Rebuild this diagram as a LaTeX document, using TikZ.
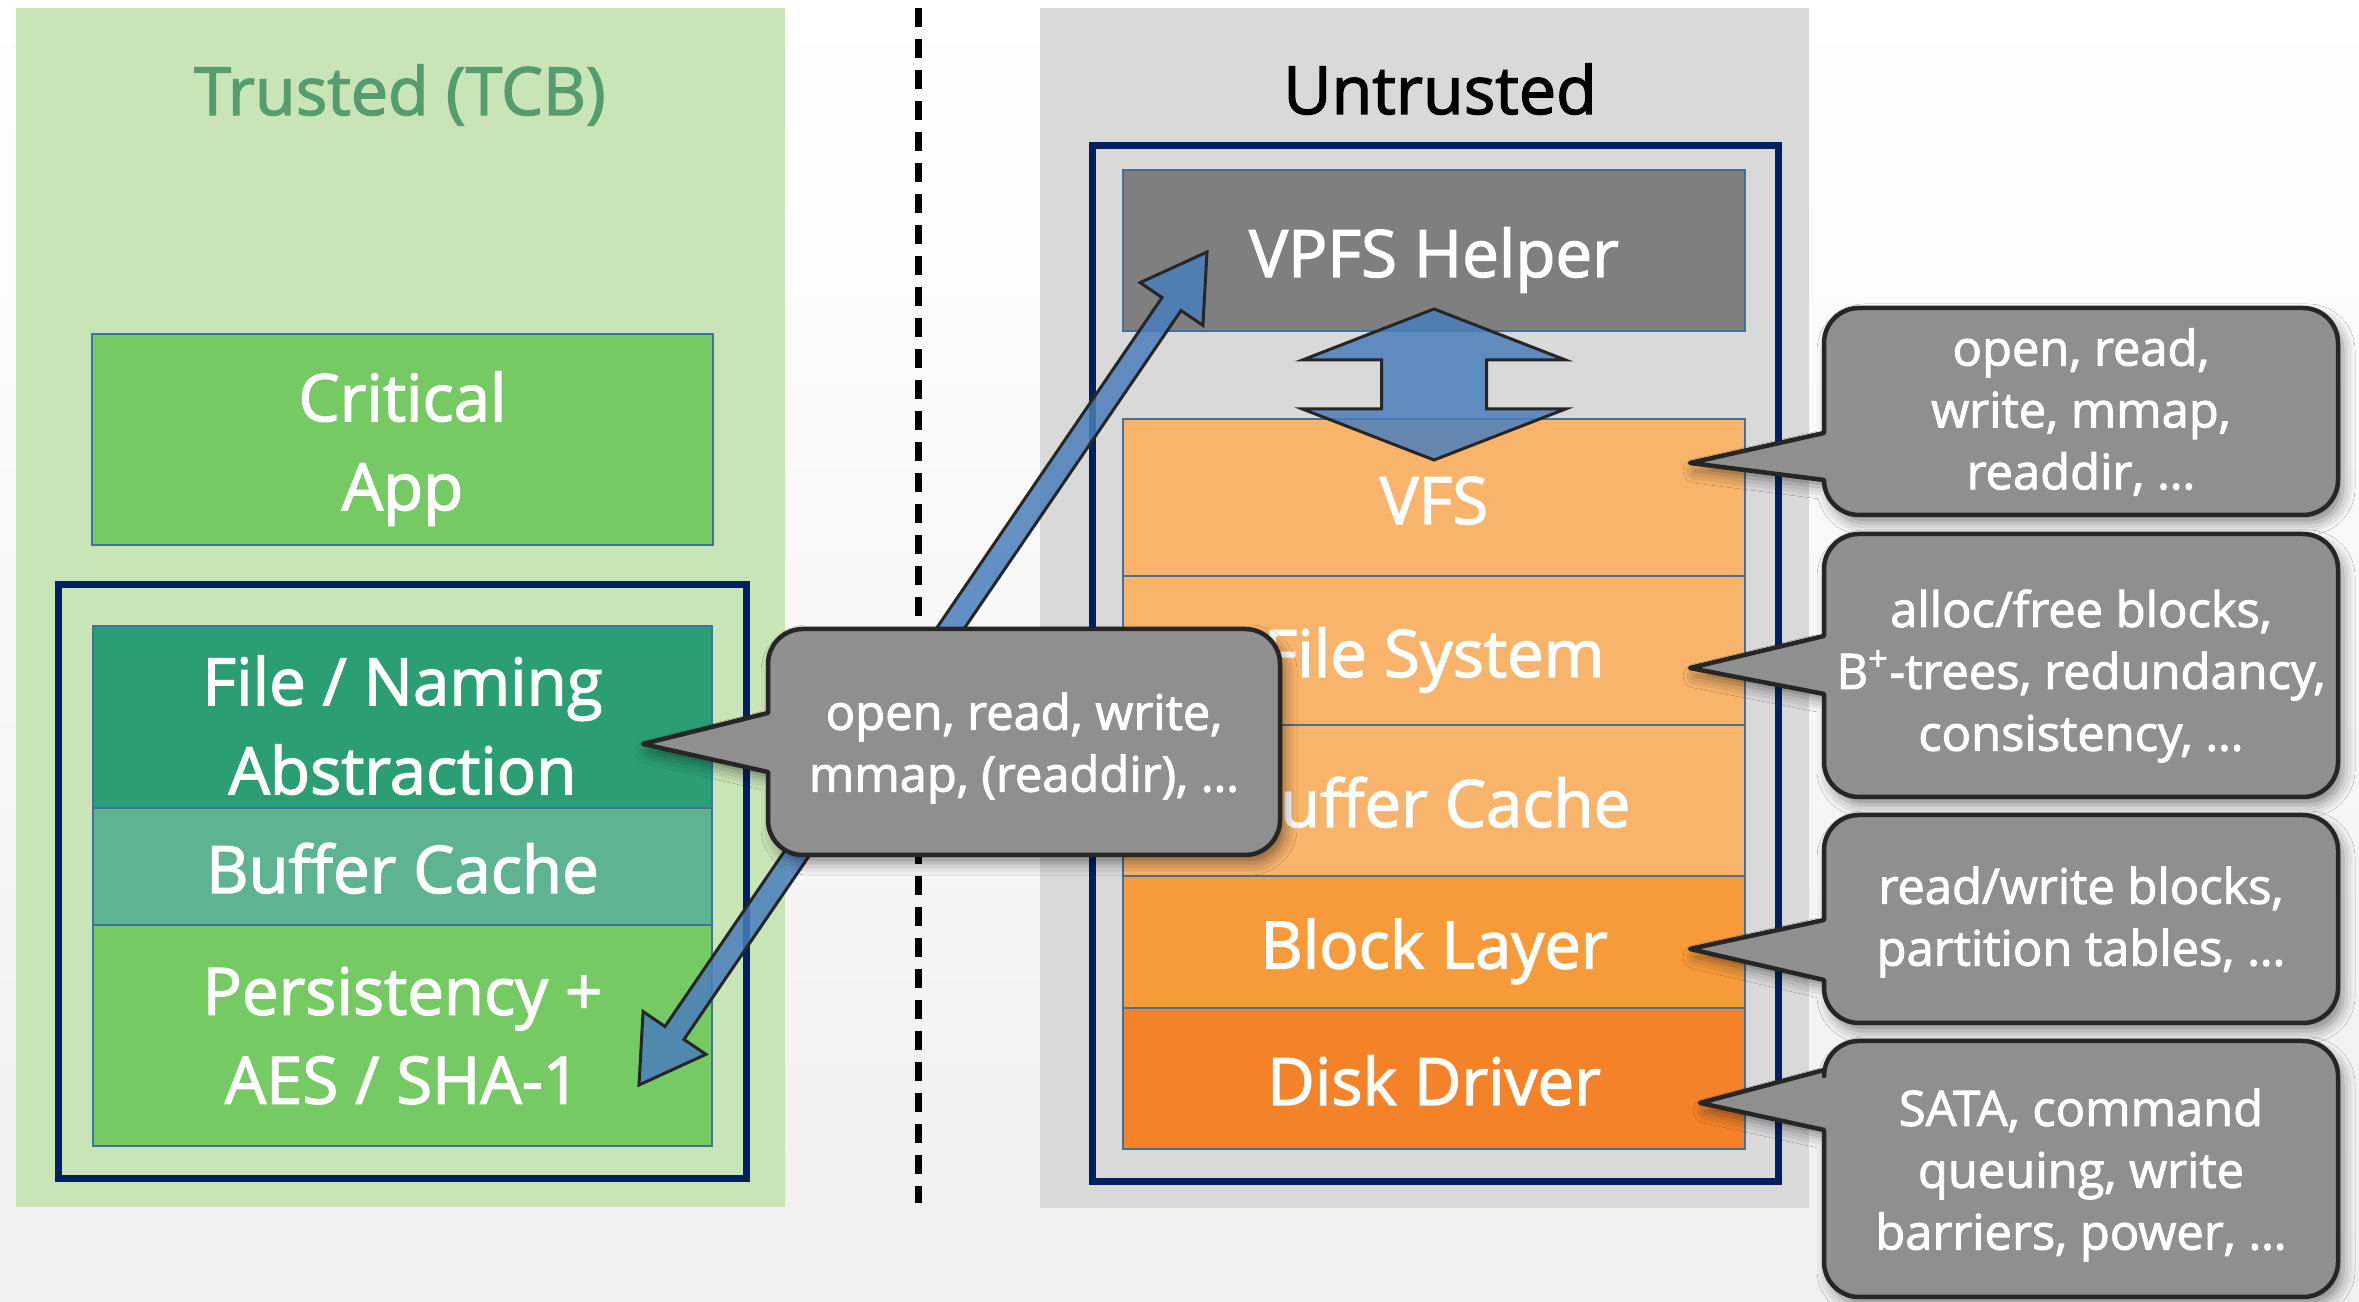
\documentclass[tikz,border=0pt]{standalone}
\usepackage{fontspec}
\setmainfont{Open Sans}
\newfontfamily\slidefont{Open Sans}[FakeBold=2]
\usetikzlibrary{positioning,calc,shadows.blur}

\definecolor{trustbg}{RGB}{201,228,183}
\definecolor{untrustbg}{RGB}{217,217,217}
\definecolor{trusttxt}{RGB}{85,157,110}
\definecolor{navyframe}{RGB}{0,32,96}
\definecolor{appgreen}{RGB}{118,202,99}
\definecolor{namegreen}{RGB}{43,158,117}
\definecolor{cachegreen}{RGB}{94,179,147}
\definecolor{helpergray}{RGB}{127,127,127}
\definecolor{lightorange}{RGB}{249,180,107}
\definecolor{midorange}{RGB}{247,155,58}
\definecolor{darkorange}{RGB}{243,130,40}
\definecolor{layerline}{RGB}{65,113,156}
\definecolor{arrowblue}{RGB}{74,126,187}
\definecolor{bubble}{RGB}{143,143,143}
\definecolor{bubbleline}{RGB}{38,38,38}

\begin{document}
\begin{tikzpicture}[x=0.1mm,y=-0.1mm,every node/.style={outer sep=0pt},
 layer/.style={draw=layerline,line width=0.15mm,minimum width=62.2mm,text=white,
 font=\slidefont\fontsize{18.6}{25.3}\selectfont,align=center,inner sep=0pt},
 oneline/.style={text height=5.3mm,text depth=0pt},
 stackframe/.style={draw=navyframe,line width=0.7mm},
 blockarrow/.style={draw=black!85,line width=0.3mm,fill=arrowblue,fill opacity=0.85,line join=miter},
 bubblebox/.style={draw=bubbleline,line width=0.45mm,fill=bubble,line join=round,
 blur shadow={shadow xshift=0.5mm,shadow yshift=-0.8mm,shadow blur radius=1.2mm,shadow opacity=45}},
 bubbletext/.style={text=white,align=center,font=\slidefont\fontsize{13.9}{17.6}\selectfont,inner sep=0pt},
 paneltitle/.style={font=\slidefont\fontsize{18.9}{22}\selectfont,anchor=base}]

 \useasboundingbox (0,0) rectangle (2359,1302);
 \fill[top color=white,bottom color=black!6] (0,0) rectangle (2359,1302);

 % trusted / untrusted halves
 \fill[trustbg] (16,8) rectangle (785,1207);
 \fill[untrustbg] (1040,8) rectangle (1809,1208);
 \draw[line width=0.7mm,dash pattern=on 1.9mm off 1.2mm] (918,8) -- (918,1203);

 \node[paneltitle,text=trusttxt] (trusted) at (400,115) {Trusted (TCB)};
 \node[paneltitle] (untrusted) at (1440,114) {Untrusted};

 % left stack
 \node[layer,fill=appgreen,minimum width=62.1mm,minimum height=21.1mm] (app) at (402.5,439.5) {\rule{0pt}{6.8mm}Critical\\App};
 \draw[stackframe] (58,585) rectangle (746,1179);
 \node[layer,fill=namegreen,minimum width=61.9mm,minimum height=18.2mm] (naming) at (402.5,717) {\rule{0pt}{6.6mm}File / Naming\\Abstraction};
 \node[layer,oneline,fill=cachegreen,minimum width=61.9mm,minimum height=11.7mm,below=0pt of naming] (tcache) {Buffer Cache};
 \node[layer,fill=appgreen,minimum width=61.9mm,minimum height=22.1mm,below=0pt of tcache] (persist) {Persistency +\\AES / SHA-1};

 % right stack
 \draw[stackframe] (1092,146) rectangle (1778,1182);
 \node[layer,oneline,fill=helpergray,minimum height=16.1mm] (helper) at (1434,250.5) {VPFS Helper};
 \node[layer,oneline,fill=lightorange,minimum height=15.7mm] (vfs) at (1434,497.5) {VFS};
 \node[layer,oneline,fill=lightorange,minimum height=14.9mm,below=0pt of vfs] (fs) {File System};
 \node[layer,oneline,fill=lightorange,minimum height=15.1mm,below=0pt of fs] (ucache) {Buffer Cache};
 \node[layer,oneline,fill=midorange,minimum height=13.2mm,below=0pt of ucache] (block) {Block Layer};
 \node[layer,oneline,fill=darkorange,minimum height=14.1mm,below=0pt of block] (disk) {Disk Driver};

 % helper <-> vfs
 \coordinate (vt) at ($(helper.south)+(0,-22)$);
 \coordinate (vb) at ($(vfs.north)+(0,41)$);
 \draw[blockarrow] (vt) -- ++(131.5,51) -- ++(-79,0) -- ++(0,49) -- ++(79,0) -- (vb)
 -- ++(-131.5,-51) -- ++(79,0) -- ++(0,-49) -- ++(-79,0) -- cycle;

 % persistency <-> helper
 \coordinate (dlow) at ($(persist.east)+(-73,49.5)$);
 \coordinate (dup) at ($(helper.west)+(84,1.5)$);
 \coordinate (hl) at ($(dlow)!6.3mm!(dup)$);
 \coordinate (hu) at ($(dup)!6.3mm!(dlow)$);
 \draw[blockarrow] (dlow) -- ($(hl)!3.8mm!90:(dup)$) -- ($(hl)!1.15mm!90:(dup)$)
 -- ($(hu)!1.15mm!-90:(dlow)$) -- ($(hu)!3.8mm!-90:(dlow)$) -- (dup)
 -- ($(hu)!3.8mm!90:(dlow)$) -- ($(hu)!1.15mm!90:(dlow)$)
 -- ($(hl)!1.15mm!-90:(dup)$) -- ($(hl)!3.8mm!-90:(dup)$) -- cycle;

 % callouts
 \coordinate (tabs) at ($(naming.east)+(-69,27)$);
 \draw[bubblebox] (tabs) -- (768,772) [rounded corners=3.5mm] -- (768,855) -- (1280,855) -- (1280,629)
 -- (768,629) [sharp corners] -- (768,713) -- cycle;
 \node[bubbletext] (absnote) at (1024,748) {open, read, write,\\mmap, (readdir), …};

 \coordinate (tvfs) at ($(vfs.east)+(-55,-34.5)$);
 \draw[bubblebox] (tvfs) -- (1824,480) [rounded corners=3.5mm] -- (1824,515) -- (2338,515) -- (2338,308)
 -- (1824,308) [sharp corners] -- (1824,433) -- cycle;
 \node[bubbletext] (vfsnote) at (2081,412) {open, read,\\write, mmap,\\readdir, …};

 \coordinate (tfs) at ($(fs.east)+(-55,17.5)$);
 \draw[bubblebox] (tfs) -- (1824,694) [rounded corners=3.5mm] -- (1824,797) -- (2338,797) -- (2338,534)
 -- (1824,534) [sharp corners] -- (1824,636) -- cycle;
 \node[bubbletext] (fsnote) at (2081,676) {alloc/free blocks,\\B\textsuperscript{+}-trees, redundancy,\\consistency, …};

 \coordinate (tblock) at ($(block.east)+(-55,7)$);
 \draw[bubblebox] (tblock) -- (1824,980) [rounded corners=3.5mm] -- (1824,1023) -- (2338,1023) -- (2338,815)
 -- (1824,815) [sharp corners] -- (1824,920) -- cycle;
 \node[bubbletext] (blocknote) at (2081,922) {read/write blocks,\\partition tables, …};

 \coordinate (tdisk) at ($(disk.east)+(-45,24.5)$);
 \draw[bubblebox] (tdisk) -- (1824,1130) [rounded corners=3.5mm] -- (1824,1297) -- (2338,1297) -- (2338,1041)
 -- (1824,1041) [sharp corners] -- (1824,1070) -- cycle;
 \node[bubbletext] (disknote) at (2081,1175) {SATA, command\\queuing, write\\barriers, power, …};

\end{tikzpicture}
\end{document}
